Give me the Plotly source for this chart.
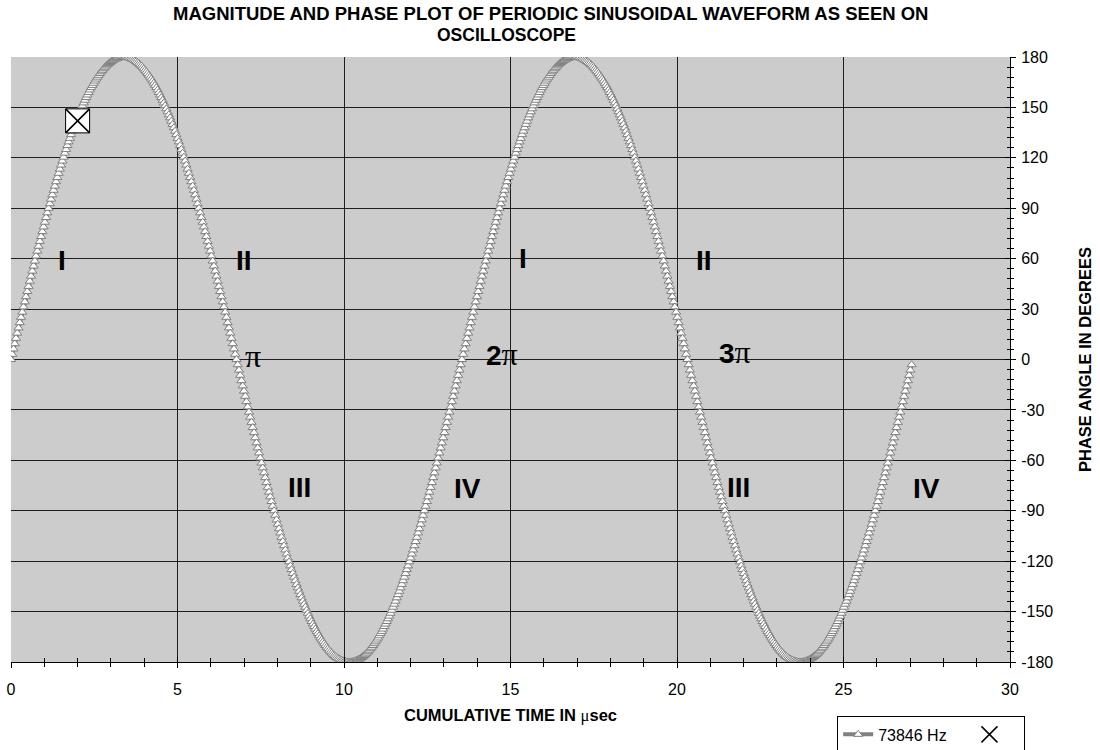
import plotly.graph_objects as go

# ---------------- data ----------------
series_name = "73846 Hz"
sample_step_us = 0.0376158          # time between samples (1 degree of phase at 73846 Hz)

# phase angle, one sample per step (0 .. 27.04 usec)
phase_angle_deg = [
    # first cycle
    0.0, 3.1, 6.3, 9.4, 12.6, 15.7, 18.8, 21.9, 25.1, 28.2,
    31.3, 34.3, 37.4, 40.5, 43.5, 46.6, 49.6, 52.6, 55.6, 58.6,
    61.6, 64.5, 67.4, 70.3, 73.2, 76.1, 78.9, 81.7, 84.5, 87.3,
    90.0, 92.7, 95.4, 98.0, 100.7, 103.2, 105.8, 108.3, 110.8, 113.3,
    115.7, 118.1, 120.4, 122.8, 125.0, 127.3, 129.5, 131.6, 133.8, 135.9,
    137.9, 139.9, 141.8, 143.8, 145.6, 147.4, 149.2, 151.0, 152.7, 154.3,
    155.9, 157.4, 158.9, 160.4, 161.8, 163.1, 164.4, 165.7, 166.9, 168.0,
    169.1, 170.2, 171.2, 172.1, 173.0, 173.9, 174.7, 175.4, 176.1, 176.7,
    177.3, 177.8, 178.2, 178.7, 179.0, 179.3, 179.6, 179.7, 179.9, 180.0,
    180.0,
    180.0, 179.9, 179.7, 179.6, 179.3, 179.0, 178.7, 178.2, 177.8, 177.3,
    176.7, 176.1, 175.4, 174.7, 173.9, 173.0, 172.1, 171.2, 170.2, 169.1,
    168.0, 166.9, 165.7, 164.4, 163.1, 161.8, 160.4, 158.9, 157.4, 155.9,
    154.3, 152.7, 151.0, 149.2, 147.4, 145.6, 143.8, 141.8, 139.9, 137.9,
    135.9, 133.8, 131.6, 129.5, 127.3, 125.0, 122.8, 120.4, 118.1, 115.7,
    113.3, 110.8, 108.3, 105.8, 103.2, 100.7, 98.0, 95.4, 92.7, 90.0,
    87.3, 84.5, 81.7, 78.9, 76.1, 73.2, 70.3, 67.4, 64.5, 61.6,
    58.6, 55.6, 52.6, 49.6, 46.6, 43.5, 40.5, 37.4, 34.3, 31.3,
    28.2, 25.1, 21.9, 18.8, 15.7, 12.6, 9.4, 6.3, 3.1, 0.0,
    -3.1, -6.3, -9.4, -12.6, -15.7, -18.8, -21.9, -25.1, -28.2, -31.3,
    -34.3, -37.4, -40.5, -43.5, -46.6, -49.6, -52.6, -55.6, -58.6, -61.6,
    -64.5, -67.4, -70.3, -73.2, -76.1, -78.9, -81.7, -84.5, -87.3, -90.0,
    -92.7, -95.4, -98.0, -100.7, -103.2, -105.8, -108.3, -110.8, -113.3, -115.7,
    -118.1, -120.4, -122.8, -125.0, -127.3, -129.5, -131.6, -133.8, -135.9, -137.9,
    -139.9, -141.8, -143.8, -145.6, -147.4, -149.2, -151.0, -152.7, -154.3, -155.9,
    -157.4, -158.9, -160.4, -161.8, -163.1, -164.4, -165.7, -166.9, -168.0, -169.1,
    -170.2, -171.2, -172.1, -173.0, -173.9, -174.7, -175.4, -176.1, -176.7, -177.3,
    -177.8, -178.2, -178.7, -179.0, -179.3, -179.6, -179.7, -179.9, -180.0, -180.0,
    -180.0, -179.9, -179.7, -179.6, -179.3, -179.0, -178.7, -178.2, -177.8, -177.3,
    -176.7, -176.1, -175.4, -174.7, -173.9, -173.0, -172.1, -171.2, -170.2, -169.1,
    -168.0, -166.9, -165.7, -164.4, -163.1, -161.8, -160.4, -158.9, -157.4, -155.9,
    -154.3, -152.7, -151.0, -149.2, -147.4, -145.6, -143.8, -141.8, -139.9, -137.9,
    -135.9, -133.8, -131.6, -129.5, -127.3, -125.0, -122.8, -120.4, -118.1, -115.7,
    -113.3, -110.8, -108.3, -105.8, -103.2, -100.7, -98.0, -95.4, -92.7, -90.0,
    -87.3, -84.5, -81.7, -78.9, -76.1, -73.2, -70.3, -67.4, -64.5, -61.6,
    -58.6, -55.6, -52.6, -49.6, -46.6, -43.5, -40.5, -37.4, -34.3, -31.3,
    -28.2, -25.1, -21.9, -18.8, -15.7, -12.6, -9.4, -6.3, -3.1, 0.0,
    # second cycle
    3.1, 6.3, 9.4, 12.6, 15.7, 18.8, 21.9, 25.1, 28.2, 31.3,
    34.3, 37.4, 40.5, 43.5, 46.6, 49.6, 52.6, 55.6, 58.6, 61.6,
    64.5, 67.4, 70.3, 73.2, 76.1, 78.9, 81.7, 84.5, 87.3, 90.0,
    92.7, 95.4, 98.0, 100.7, 103.2, 105.8, 108.3, 110.8, 113.3, 115.7,
    118.1, 120.4, 122.8, 125.0, 127.3, 129.5, 131.6, 133.8, 135.9, 137.9,
    139.9, 141.8, 143.8, 145.6, 147.4, 149.2, 151.0, 152.7, 154.3, 155.9,
    157.4, 158.9, 160.4, 161.8, 163.1, 164.4, 165.7, 166.9, 168.0, 169.1,
    170.2, 171.2, 172.1, 173.0, 173.9, 174.7, 175.4, 176.1, 176.7, 177.3,
    177.8, 178.2, 178.7, 179.0, 179.3, 179.6, 179.7, 179.9, 180.0, 180.0,
    180.0, 179.9, 179.7, 179.6, 179.3, 179.0, 178.7, 178.2, 177.8, 177.3,
    176.7, 176.1, 175.4, 174.7, 173.9, 173.0, 172.1, 171.2, 170.2, 169.1,
    168.0, 166.9, 165.7, 164.4, 163.1, 161.8, 160.4, 158.9, 157.4, 155.9,
    154.3, 152.7, 151.0, 149.2, 147.4, 145.6, 143.8, 141.8, 139.9, 137.9,
    135.9, 133.8, 131.6, 129.5, 127.3, 125.0, 122.8, 120.4, 118.1, 115.7,
    113.3, 110.8, 108.3, 105.8, 103.2, 100.7, 98.0, 95.4, 92.7, 90.0,
    87.3, 84.5, 81.7, 78.9, 76.1, 73.2, 70.3, 67.4, 64.5, 61.6,
    58.6, 55.6, 52.6, 49.6, 46.6, 43.5, 40.5, 37.4, 34.3, 31.3,
    28.2, 25.1, 21.9, 18.8, 15.7, 12.6, 9.4, 6.3, 3.1, 0.0,
    -3.1, -6.3, -9.4, -12.6, -15.7, -18.8, -21.9, -25.1, -28.2, -31.3,
    -34.3, -37.4, -40.5, -43.5, -46.6, -49.6, -52.6, -55.6, -58.6, -61.6,
    -64.5, -67.4, -70.3, -73.2, -76.1, -78.9, -81.7, -84.5, -87.3, -90.0,
    -92.7, -95.4, -98.0, -100.7, -103.2, -105.8, -108.3, -110.8, -113.3, -115.7,
    -118.1, -120.4, -122.8, -125.0, -127.3, -129.5, -131.6, -133.8, -135.9, -137.9,
    -139.9, -141.8, -143.8, -145.6, -147.4, -149.2, -151.0, -152.7, -154.3, -155.9,
    -157.4, -158.9, -160.4, -161.8, -163.1, -164.4, -165.7, -166.9, -168.0, -169.1,
    -170.2, -171.2, -172.1, -173.0, -173.9, -174.7, -175.4, -176.1, -176.7, -177.3,
    -177.8, -178.2, -178.7, -179.0, -179.3, -179.6, -179.7, -179.9, -180.0, -180.0,
    -180.0, -179.9, -179.7, -179.6, -179.3, -179.0, -178.7, -178.2, -177.8, -177.3,
    -176.7, -176.1, -175.4, -174.7, -173.9, -173.0, -172.1, -171.2, -170.2, -169.1,
    -168.0, -166.9, -165.7, -164.4, -163.1, -161.8, -160.4, -158.9, -157.4, -155.9,
    -154.3, -152.7, -151.0, -149.2, -147.4, -145.6, -143.8, -141.8, -139.9, -137.9,
    -135.9, -133.8, -131.6, -129.5, -127.3, -125.0, -122.8, -120.4, -118.1, -115.7,
    -113.3, -110.8, -108.3, -105.8, -103.2, -100.7, -98.0, -95.4, -92.7, -90.0,
    -87.3, -84.5, -81.7, -78.9, -76.1, -73.2, -70.3, -67.4, -64.5, -61.6,
    -58.6, -55.6, -52.6, -49.6, -46.6, -43.5, -40.5, -37.4, -34.3, -31.3,
    -28.2, -25.1, -21.9, -18.8, -15.7, -12.6, -9.4, -6.3, -3.1,
]

# highlighted sample (square with cross)
marker_time_us = [2.0]
marker_phase_deg = [142.0]

# quadrant / multiple-of-pi labels written on the plot
label_texts = ["I", "II", "π", "III", "IV", "2π", "I", "II", "3π", "III", "IV"]
label_time_us = [1.53, 7.0, 7.27, 8.65, 13.72, 14.75, 15.38, 20.8, 21.75, 21.85, 27.5]
label_phase_deg = [59, 59, 2, -76, -77, 3.5, 60, 59, 4.5, -76, -77]

x_major_ticks = [0, 5, 10, 15, 20, 25, 30]
x_tick_labels = ["0", "5", "10", "15", "20", "25", "30"]
y_major_ticks = [-180, -150, -120, -90, -60, -30, 0, 30, 60, 90, 120, 150, 180]
y_tick_labels = ["-180", "-150", "-120", "-90", "-60", "-30", "0",
                 "30", "60", "90", "120", "150", "180"]
x_grid_vals = [5, 10, 15, 20, 25]
y_grid_vals = [-150, -120, -90, -60, -30, 0, 30, 60, 90, 120, 150]

# ---------------- styling ----------------
SANS = "Liberation Sans, Arial, sans-serif"
SERIF = "Liberation Serif"
GRAY = "#808080"
GRID = "#1e1e1e"
NBSP = "\u00a0"


def label_html(t):
    if "π" in t:
        pre = t.replace("π", "")
        return (f"<b>{pre}</b>" if pre else "") + \
            f"<span style='font-family:{SERIF};font-size:32px'>π</span>"
    return f"<b>{t}</b>"


fig = go.Figure()

fig.add_trace(go.Scatter(
    x0=0, dx=sample_step_us, y=phase_angle_deg,
    mode="lines+markers", name=series_name + NBSP * 4,
    line=dict(color=GRAY, width=4),
    marker=dict(symbol="triangle-up", size=8, color="white",
                line=dict(color=GRAY, width=1)),
    hoverinfo="x+y",
))

fig.add_trace(go.Scatter(
    x=marker_time_us, y=marker_phase_deg, mode="markers",
    marker=dict(symbol="square", size=24, color="white",
                line=dict(color="black", width=1)),
    showlegend=False, hoverinfo="skip",
))
fig.add_trace(go.Scatter(
    x=marker_time_us, y=marker_phase_deg, mode="markers", name=NBSP * 2,
    marker=dict(symbol="x-thin", size=24, color="black",
                line=dict(color="black", width=1.5)),
    showlegend=True,
))

# dummy trace so the overlay axes (inside half of the cross ticks + grid) render
fig.add_trace(go.Scatter(x=[], y=[], xaxis="x2", yaxis="y2",
                         showlegend=False, hoverinfo="skip"))

for txt, tx, ty in zip(label_texts, label_time_us, label_phase_deg):
    fig.add_annotation(x=tx, y=ty, xref="x", yref="y", text=label_html(txt),
                       showarrow=False, xanchor="center", yanchor="middle",
                       font=dict(family=SANS, size=28, color="black"))

# two-line title
fig.add_annotation(x=0.5, y=1, xref="paper", yref="paper", yshift=43.5, xshift=40,
                   text="<b>MAGNITUDE AND PHASE PLOT OF PERIODIC SINUSOIDAL WAVEFORM AS SEEN ON</b>",
                   showarrow=False, xanchor="center", yanchor="middle",
                   font=dict(family=SANS, size=18.5, color="black"))
fig.add_annotation(x=0.5, y=1, xref="paper", yref="paper", yshift=22.5, xshift=-4,
                   text="<b>OSCILLOSCOPE</b>",
                   showarrow=False, xanchor="center", yanchor="middle",
                   font=dict(family=SANS, size=17.5, color="black"))

tickfont = dict(family=SANS, size=16, color="black")

fig.update_layout(
    width=1100, height=750,
    margin=dict(l=11, r=90, t=57, b=88, autoexpand=False),
    paper_bgcolor="white", plot_bgcolor="#cccccc",
    font=dict(family=SANS, color="black"),
    showlegend=True,
    legend=dict(orientation="h", x=0.827, xanchor="left", y=-0.09, yanchor="top",
                bordercolor="black", borderwidth=1, bgcolor="white",
                font=dict(family=SANS, size=16, color="black"),
                itemwidth=30),
    xaxis=dict(
        range=[0, 30], tickmode="array", tickvals=x_major_ticks, ticktext=x_tick_labels,
        ticks="outside", ticklen=5, tickwidth=1, tickcolor="black",
        minor=dict(tickmode="linear", tick0=0, dtick=1, ticks="outside",
                   ticklen=4, tickcolor="black", showgrid=False),
        showline=True, linecolor="black", linewidth=1,
        showgrid=False, zeroline=False, automargin=False,
        tickfont=tickfont, ticklabelstandoff=8, ticklabeloverflow="allow",
        title=dict(text="<b>CUMULATIVE TIME IN </b><span style='font-family:Liberation Serif'>μ</span><b>sec</b>",
                   font=dict(family=SANS, size=16.5, color="black"), standoff=12),
        fixedrange=True,
    ),
    yaxis=dict(
        range=[-180, 180], side="right", tickmode="array", tickvals=y_major_ticks,
        ticktext=y_tick_labels,
        ticks="outside", ticklen=5, tickwidth=1, tickcolor="black",
        minor=dict(tickmode="linear", tick0=0, dtick=6, ticks="outside",
                   ticklen=3, tickcolor="black", showgrid=False),
        showline=True, linecolor="black", linewidth=1,
        showgrid=False, zeroline=False, automargin=False,
        tickfont=tickfont, ticklabelstandoff=2, ticklabeloverflow="allow",
        title=dict(text="<b>PHASE ANGLE IN DEGREES</b>",
                   font=dict(family=SANS, size=16.5, color="black"), standoff=27),
        fixedrange=True,
    ),
    xaxis2=dict(
        overlaying="x", anchor="y2", range=[0, 30],
        tickmode="array", tickvals=x_grid_vals,
        ticks="inside", ticklen=5, tickcolor="black",
        minor=dict(tickmode="linear", tick0=0, dtick=1, ticks="inside",
                   ticklen=4, tickcolor="black", showgrid=False),
        showticklabels=False, showline=False, zeroline=False, automargin=False,
        showgrid=True, gridcolor=GRID, gridwidth=1, fixedrange=True,
    ),
    yaxis2=dict(
        overlaying="y", anchor="x2", side="right", range=[-180, 180],
        tickmode="array", tickvals=y_grid_vals,
        ticks="inside", ticklen=5, tickcolor="black",
        minor=dict(tickmode="linear", tick0=0, dtick=6, ticks="inside",
                   ticklen=3, tickcolor="black", showgrid=False),
        showticklabels=False, showline=False, zeroline=False, automargin=False,
        showgrid=True, gridcolor=GRID, gridwidth=1, fixedrange=True,
    ),
)

# remove the default 8 px page margin so the figure sits at the window's corner
fig.write_html("out.html", config={"displayModeBar": False},
               post_script="document.body.style.margin='0px';")
